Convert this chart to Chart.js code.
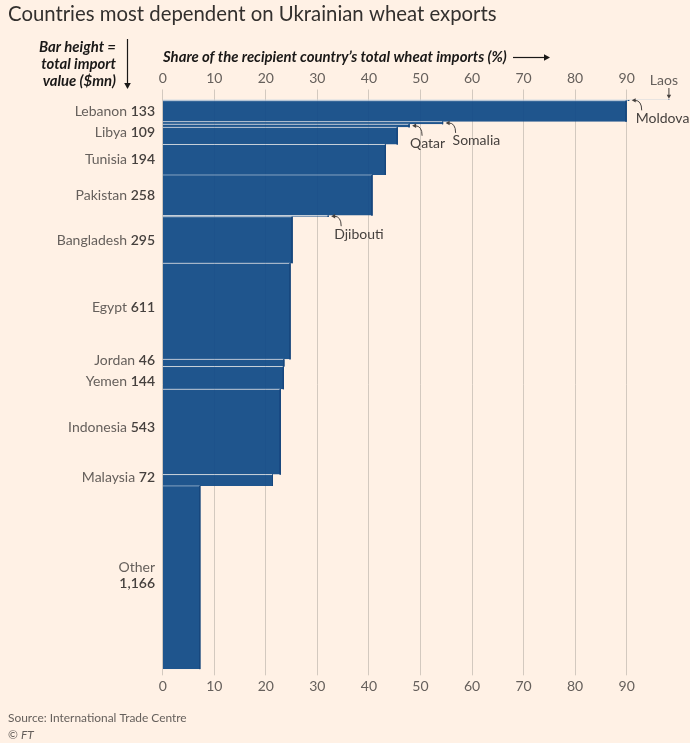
<!DOCTYPE html>
<html><head><meta charset="utf-8">
<script src="https://cdn.jsdelivr.net/npm/chart.js@4.4.1/dist/chart.umd.min.js"></script>
<style>html,body{margin:0;padding:0;background:#fff1e5;}#wrap{width:690px;height:743px;position:relative;}</style>
</head><body><div id="wrap"><canvas id="c" width="690" height="743"></canvas></div>
<script>
// ---- data ----
const countries = ['Laos','Moldova','Lebanon','Somalia','Qatar','Libya','Tunisia','Pakistan','Djibouti','Bangladesh','Egypt','Jordan','Yemen','Indonesia','Malaysia','Other'];
const importValues = [3,5,133,16,20,109,194,258,8,295,611,46,144,543,72,1166]; // $mn (bar height)
const shares = [98.2,90.4,89.9,54.3,47.8,45.5,43.2,40.6,32.1,25.1,24.7,23.5,23.4,22.8,21.3,7.2]; // % of wheat imports
const labelledCountries = ['Lebanon','Libya','Tunisia','Pakistan','Bangladesh','Egypt','Jordan','Yemen','Indonesia','Malaysia','Other'];
const annotatedCountries = ['Moldova','Somalia','Qatar','Djibouti'];
const xTickValues = [0,10,20,30,40,50,60,70,80,90];

const titleText = 'Countries most dependent on Ukrainian wheat exports';
const xTitleText = 'Share of the recipient country\u2019s total wheat imports (%)';
const yTitleLines = ['Bar height =','total import','value ($mn)'];
const sourceText = 'Source: International Trade Centre';

// ---- layout / style constants ----
const FONT = 'Lato';
const BG = '#fff1e5';
const BAR = 'rgba(19,76,136,0.95)';
const EDGE = '#17477d';
const SEP = 'rgba(255,255,255,0.45)';
const GRID = '#d3c9bf';
const TXT = '#66605c';
const DARK = '#46413e';
const labelNudge = {Libya:-3, Egypt:-4, Jordan:-2, Yemen:4, Indonesia:-4, Malaysia:-3, Other:-2};
const annotTextDx = {Moldova:4, Qatar:-2, Somalia:7, Djibouti:3};

const starts = [];
let acc = 0;
importValues.forEach(v => { starts.push(acc); acc += v; });
const total = acc;
const idx = name => countries.indexOf(name);

const datasets = countries.map((c, i) => ({
  label: c,
  data: [
    {x: 0, y: starts[i]},
    {x: shares[i], y: starts[i]},
    {x: shares[i], y: starts[i] + importValues[i]}
  ],
  fill: 'origin',
  backgroundColor: BAR,
  borderColor: EDGE,
  borderWidth: 1,
  segment: { borderColor: ctx => ctx.p0DataIndex === 0 ? SEP : EDGE },
  pointRadius: 0,
  pointHoverRadius: 0,
  tension: 0,
  order: countries.length - i
}));

function fitSize(ctx, text, style, target, base) {
  ctx.font = style + ' ' + base + 'px ' + FONT;
  const w = ctx.measureText(text).width;
  return base * target / w;
}
function arrowHead(ctx, x, y, ang, s) {
  ctx.save();
  ctx.translate(x, y); ctx.rotate(ang);
  ctx.beginPath(); ctx.moveTo(0, 0); ctx.lineTo(-s, -s*0.55); ctx.lineTo(-s, s*0.55); ctx.closePath();
  ctx.fill();
  ctx.restore();
}

const decor = {
  id: 'decor',
  beforeDraw(chart) {
    const ctx = chart.ctx;
    ctx.save(); ctx.fillStyle = BG; ctx.fillRect(0, 0, chart.width, chart.height); ctx.restore();
  },
  afterDraw(chart) {
    const ctx = chart.ctx;
    const xs = chart.scales.x, ys = chart.scales.y;
    ctx.save();
    // title
    let sz = fitSize(ctx, titleText, '400', 489, 20);
    ctx.font = '400 ' + sz + 'px ' + FONT;
    ctx.fillStyle = '#33302e'; ctx.textAlign = 'left'; ctx.textBaseline = 'middle';
    ctx.fillText(titleText, 8, 14);
    // x axis title
    sz = fitSize(ctx, xTitleText, 'italic 700', 344, 14);
    ctx.font = 'italic 700 ' + sz + 'px ' + FONT;
    ctx.fillStyle = '#1a1817';
    ctx.fillText(xTitleText, 163, 57);
    ctx.strokeStyle = '#1a1817'; ctx.fillStyle = '#1a1817'; ctx.lineWidth = 1.2;
    ctx.beginPath(); ctx.moveTo(513, 57.5); ctx.lineTo(545, 57.5); ctx.stroke();
    arrowHead(ctx, 550, 57.5, 0, 6);
    // y axis title
    ctx.font = 'italic 700 ' + sz + 'px ' + FONT;
    ctx.textAlign = 'right';
    yTitleLines.forEach((t, k) => ctx.fillText(t, 116, 47 + k * 17));
    ctx.beginPath(); ctx.moveTo(127.5, 39); ctx.lineTo(127.5, 83); ctx.stroke();
    arrowHead(ctx, 127.5, 89, Math.PI / 2, 6);
    // category labels
    labelledCountries.forEach(name => {
      const i = idx(name);
      let yc = ys.getPixelForValue(starts[i] + importValues[i] / 2) + (labelNudge[name] || 0);
      const num = importValues[i].toLocaleString('en-US');
      ctx.textBaseline = 'middle'; ctx.textAlign = 'right';
      if (name === 'Other') {
        ctx.font = '400 14px ' + FONT; ctx.fillStyle = TXT;
        ctx.fillText(name, 155, yc - 8);
        ctx.font = '600 14px ' + FONT; ctx.fillStyle = DARK;
        ctx.fillText(num, 155, yc + 8);
      } else {
        ctx.font = '600 14px ' + FONT; ctx.fillStyle = DARK;
        ctx.fillText(num, 155, yc);
        const nw = ctx.measureText(num).width;
        ctx.font = '400 14px ' + FONT; ctx.fillStyle = TXT;
        ctx.fillText(name + ' ', 155 - nw, yc);
      }
    });
    // annotations
    ctx.strokeStyle = DARK; ctx.fillStyle = DARK; ctx.lineWidth = 1;
    annotatedCountries.forEach(name => {
      const i = idx(name);
      const bx = xs.getPixelForValue(shares[i]);
      const by = ys.getPixelForValue(starts[i] + importValues[i] / 2);
      const ex = bx + 3, ey = by;
      const sx = ex + 10, sy = ey + 10;
      ctx.beginPath(); ctx.moveTo(sx, sy); ctx.quadraticCurveTo(sx, ey, ex + 3, ey); ctx.stroke();
      arrowHead(ctx, ex, ey, Math.PI, 4);
      ctx.font = '400 14px ' + FONT; ctx.textAlign = 'left'; ctx.textBaseline = 'middle';
      ctx.fillText(name, ex + annotTextDx[name], ey + 18);
    });
    // Laos
    {
      const i = idx('Laos');
      const bx = xs.getPixelForValue(shares[i]);
      const by = ys.getPixelForValue(starts[i] + importValues[i] / 2);
      ctx.textAlign = 'center'; ctx.font = '400 14px ' + FONT; ctx.fillStyle = TXT;
      ctx.fillText('Laos', bx - 5, 80);
      ctx.fillStyle = DARK;
      ctx.beginPath(); ctx.moveTo(bx, 88); ctx.lineTo(bx, by - 4); ctx.stroke();
      arrowHead(ctx, bx, by - 1, Math.PI / 2, 4);
    }
    // source
    sz = fitSize(ctx, sourceText, '400', 179, 12);
    ctx.font = '400 ' + sz + 'px ' + FONT; ctx.fillStyle = TXT; ctx.textAlign = 'left';
    ctx.fillText(sourceText, 8, 718);
    ctx.fillText('\u00a9', 8, 735);
    const cw = ctx.measureText('\u00a9 ').width;
    ctx.font = 'italic 400 ' + sz + 'px ' + FONT;
    ctx.fillText('FT', 8 + cw, 735);
    ctx.restore();
  }
};

const CH_TOP = 99.5, CH_BOTTOM = 669.3, CH_LEFT = 162.7, CH_RIGHT = 678.2;
const xCommon = {
  type: 'linear', min: 0, max: 100,
  afterBuildTicks: s => { s.ticks = xTickValues.map(v => ({value: v})); },
  border: {display: false},
  ticks: {color: TXT, font: {family: FONT, size: 14}, padding: 3, maxRotation: 0, autoSkip: false}
};

Chart.defaults.font.family = FONT;
new Chart(document.getElementById('c'), {
  type: 'line',
  data: {datasets},
  options: {
    indexAxis: 'y',
    responsive: false,
    animation: false,
    devicePixelRatio: 1,
    layout: {padding: {left: CH_LEFT, right: 690 - CH_RIGHT, top: 0, bottom: 0}},
    plugins: {legend: {display: false}, tooltip: {enabled: false}},
    scales: {
      x: Object.assign({}, xCommon, {
        position: 'bottom',
        grid: {color: GRID, lineWidth: 1, drawTicks: true, tickLength: 6, tickColor: GRID},
        afterFit: s => { s.height = 743 - CH_BOTTOM; }
      }),
      x2: Object.assign({}, xCommon, {
        axis: 'x',
        position: 'top',
        grid: {color: GRID, lineWidth: 1, drawOnChartArea: false, drawTicks: true, tickLength: 10, tickColor: GRID},
        afterFit: s => { s.height = CH_TOP; }
      }),
      y: {type: 'linear', reverse: true, min: 0, max: total, display: false}
    }
  },
  plugins: [decor]
});
</script>
</body></html>
